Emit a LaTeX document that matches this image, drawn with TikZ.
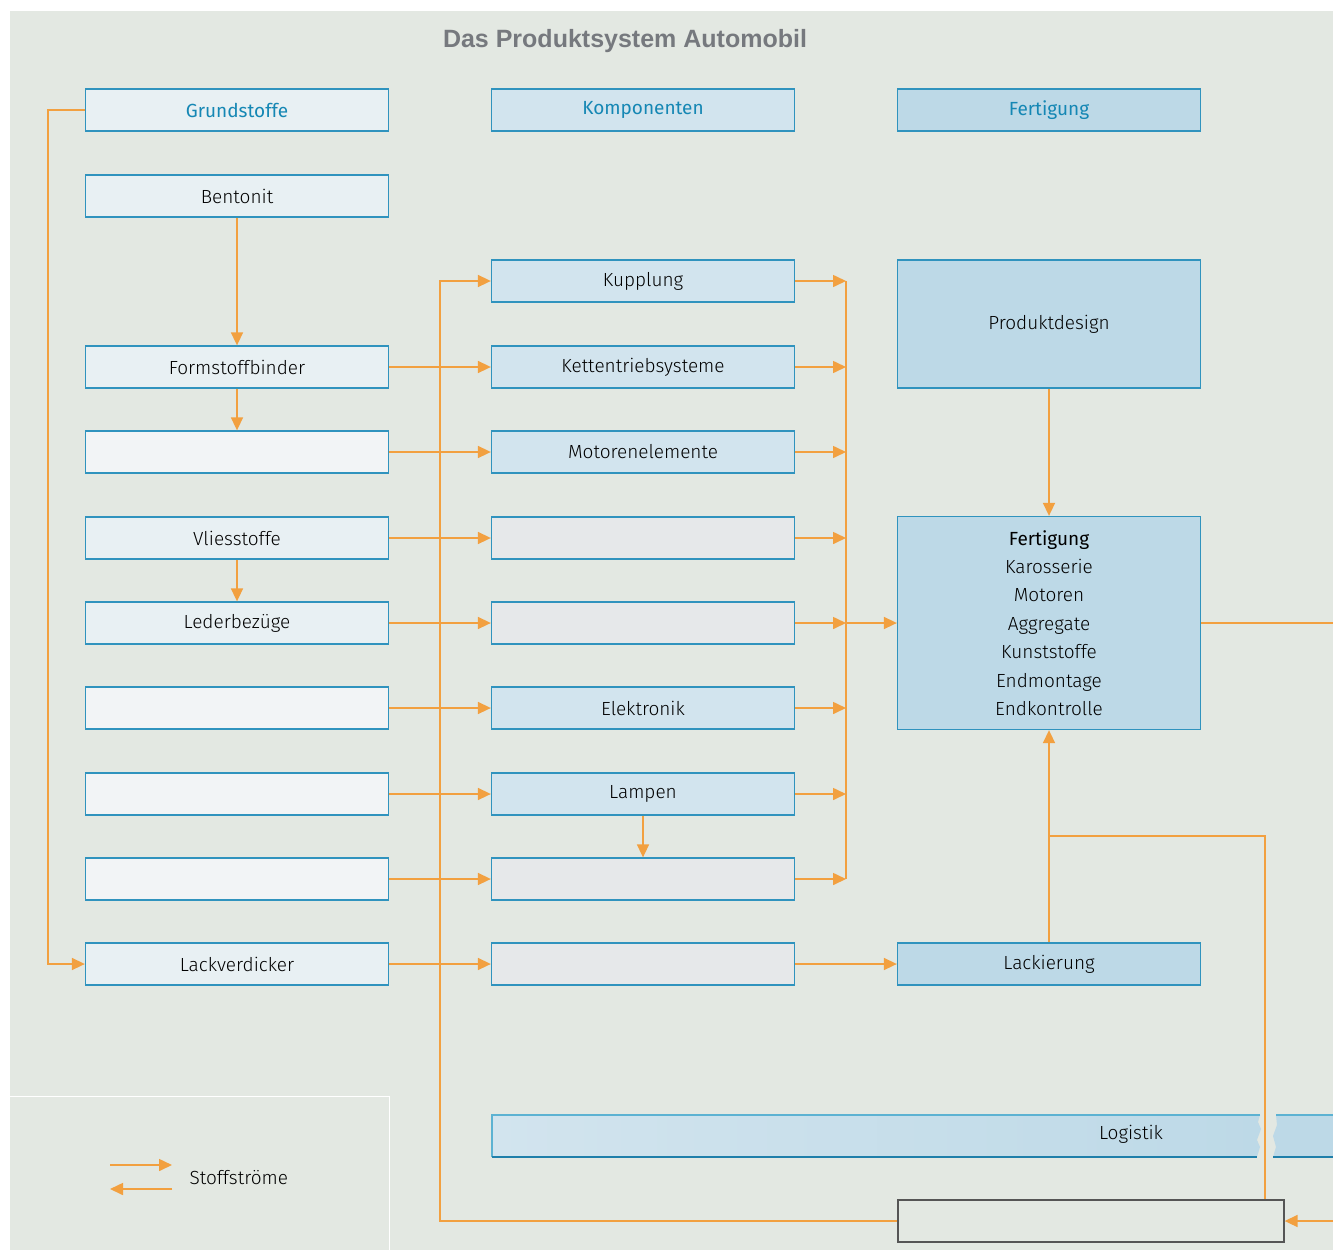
\documentclass[tikz,border=0pt]{standalone}
\usepackage{fontspec}
\setmainfont{Fira Sans Light}[BoldFont={Fira Sans}]
\newfontfamily\titlefont{Liberation Sans}
\usetikzlibrary{arrows.meta}
\definecolor{bgc}{HTML}{E3E8E2}
\definecolor{cafill}{HTML}{E8F0F3}
\definecolor{caempty}{HTML}{F2F4F6}
\definecolor{cbfill}{HTML}{D2E4EE}
\definecolor{cbempty}{HTML}{E6E8EA}
\definecolor{ccfill}{HTML}{BDD9E7}
\definecolor{bordc}{HTML}{3093BE}
\definecolor{bordlight}{HTML}{5CB2D2}
\definecolor{borddark}{HTML}{1F7FAA}
\definecolor{headc}{HTML}{1587B4}
\definecolor{titlec}{HTML}{76797E}
\definecolor{orangec}{HTML}{F2A040}
\definecolor{greyframe}{HTML}{555555}
\tikzset{
  x=1pt, y=-1pt,
  box/.style={draw=bordc, line width=1.3pt, minimum width=303pt, minimum height=42pt,
    inner sep=0pt, font=\fontsize{19}{23}\selectfont, text=black},
  cA/.style={box, fill=cafill},
  cAe/.style={box, fill=caempty},
  cB/.style={box, fill=cbfill},
  cBe/.style={box, fill=cbempty},
  cC/.style={box, fill=ccfill},
  head/.style={font=\fontsize{19}{23}\selectfont\bfseries, text=headc},
  flow/.style={draw=orangec, line width=1.6pt},
  arr/.style={flow, -{Triangle[length=13pt,width=12pt]}},
}
\begin{document}
\begin{tikzpicture}
\useasboundingbox (0,0) rectangle (1333,1250);
\fill[bgc] (10,11) rectangle (1333,1250);
\draw[white, line width=1pt] (10,1096) -- (389,1096) -- (389,1250);

\node[text=titlec, font=\titlefont\fontsize{25}{29}\selectfont\bfseries] (title) at (625,41) {Das Produktsystem Automobil};

% column 1
\node[cA, head] (g1) at (237,110) {Grundstoffe};
\node[cA] (b1) at (237,196) {Bentonit};
\node[cA] (f1) at (237,367) {Formstoffbinder};
\node[cAe] (e1) at (237,452) {};
\node[cA] (v1) at (237,538) {Vliesstoffe};
\node[cA] (l1) at (237,623) {Lederbezüge};
\node[cAe] (e2) at (237,708) {};
\node[cAe] (e3) at (237,794) {};
\node[cAe] (e4) at (237,879) {};
\node[cA] (lv) at (237,964) {Lackverdicker};

% column 2
\node[cB, head] (g2) at (643,110) {Komponenten};
\node[cB] (k) at (643,281) {Kupplung};
\node[cB] (kt) at (643,367) {Kettentriebsysteme};
\node[cB] (m) at (643,452) {Motorenelemente};
\node[cBe] (x1) at (643,538) {};
\node[cBe] (x2) at (643,623) {};
\node[cB] (el) at (643,708) {Elektronik};
\node[cB] (la) at (643,794) {Lampen};
\node[cBe] (x3) at (643,879) {};
\node[cBe] (x4) at (643,964) {};

% column 3
\node[cC, head] (g3) at (1049,110) {Fertigung};
\node[cC, minimum height=128pt] (pd) at (1049,324) {Produktdesign};
\node[cC, minimum height=213pt, align=center, font=\fontsize{19}{28.4}\selectfont] (fe) at (1049,623)
  {{\bfseries Fertigung}\\Karosserie\\Motoren\\Aggregate\\Kunststoffe\\Endmontage\\Endkontrolle};
\node[cC] (lk) at (1049,964) {Lackierung};

% logistics bar
\shade[left color=cbfill, right color=ccfill]
  (492,1115) -- (1260,1115) -- (1258,1122) -- (1261,1129) -- (1257,1140) -- (1260,1147) -- (1257,1157) -- (492,1157) -- cycle;
\fill[ccfill] (1276,1115) -- (1333,1115) -- (1333,1157) -- (1273,1157) -- (1276,1147) -- (1273,1136) -- (1277,1125) -- cycle;
\draw[bordlight, line width=1.3pt] (492,1157) -- (492,1115) -- (1260,1115);
\draw[borddark, line width=1.3pt] (492,1157) -- (1257,1157);
\draw[bordlight, line width=1.3pt] (1276,1115) -- (1333,1115);
\draw[borddark, line width=1.3pt] (1273,1157) -- (1333,1157);
\node[font=\fontsize{19}{23}\selectfont] (lg) at (1131,1134) {Logistik};

% bottom frame
\node[draw=greyframe, line width=1.3pt, minimum width=386pt, minimum height=42pt, inner sep=0pt] (bb) at (1091,1221) {};

% coordinates
\coordinate (busL) at (48,0);
\coordinate (busM) at (440,0);
\coordinate (busR) at (846,0);
\coordinate (br) at (1049,836);
\coordinate (brx) at (1265,836);
\coordinate (outR) at (1333,623);
\coordinate (inR) at (1333,1221);
\coordinate (la1) at (110,1165);
\coordinate (la2) at (172,1165);
\coordinate (lb1) at (172,1189);
\coordinate (lb2) at (110,1189);

% flows
\draw[arr] (g1.west) -- (g1.west -| busL) -- (lv.west -| busL) -- (lv.west);
\draw[arr] (bb.west) -- (bb.west -| busM) -- (k.west -| busM) -- (k.west);
\draw[arr] (b1) -- (f1);
\draw[arr] (f1) -- (e1);
\draw[arr] (v1) -- (l1);
\draw[arr] (la) -- (x3);
\foreach \a/\b in {f1/kt, e1/m, v1/x1, l1/x2, e2/el, e3/la, e4/x3, lv/x4, x4/lk}
  \draw[arr] (\a) -- (\b);
\foreach \a in {k, kt, m, x1, x2, el, la, x3}
  \draw[arr] (\a.east) -- (\a.east -| busR);
\draw[flow] (k.east -| busR) -- (x3.east -| busR);
\draw[arr] (x2.east -| busR) -- (fe.west);
\draw[arr] (pd) -- (fe);
\draw[arr] (lk) -- (fe);
\draw[flow] (br) -- (brx) -- (brx |- bb.north);
\draw[flow] (fe.east) -- (outR);
\draw[arr] (inR) -- (bb.east);

% legend
\draw[arr] (la1) -- (la2);
\draw[arr] (lb1) -- (lb2);
\node[anchor=west, font=\fontsize{19}{23}\selectfont] (leg) at (186,1178) {Stoffströme};
\end{tikzpicture}
\end{document}
